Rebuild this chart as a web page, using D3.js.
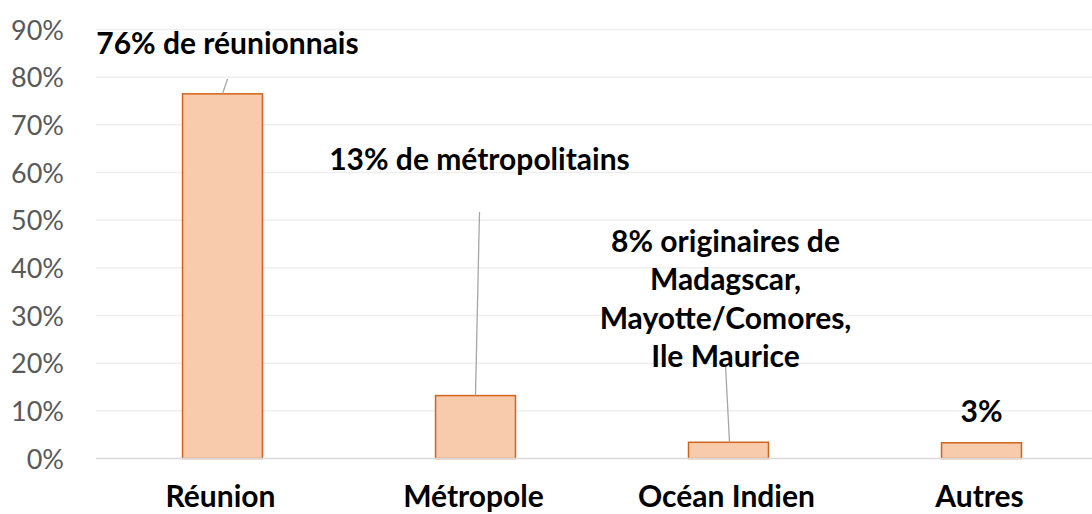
<!DOCTYPE html>
<html>
<head>
<meta charset="utf-8">
<script src="https://cdn.jsdelivr.net/npm/d3@7"></script>
<style>
  body { margin: 0; background: #fff; }
  svg { display: block; font-family: Lato, "Open Sans", sans-serif; }
</style>
</head>
<body>
<svg id="chart" width="1092" height="514"></svg>
<script>
// data
var categories = ['Réunion', 'Métropole', 'Océan Indien', 'Autres'];
var values = [76.5, 13.2, 3.4, 3.3];
var yTicks = [0, 10, 20, 30, 40, 50, 60, 70, 80, 90];
var labelLines = [
    ['76% de réunionnais'],
    ['13% de métropolitains'],
    ['8% originaires de', 'Madagscar,', 'Mayotte/Comores,', 'Ile Maurice'],
    ['3%']
];
// where each label sits (value units for y, offset from band centre for x)
var labelPos = [
    {dx: 5, y: 84.9, lineTop: 79.6},
    {dx: 4, y: 60.5, lineTop: 51.7},
    {dx: -3, y: 43.3, lineTop: 19.6},
    {dx: 0, y: 7.7, lineTop: null}
];

var svg = d3.select('#chart');
var margin = {left: 96, right: -16, top: 29.5, bottom: 55.5};
var width = 1092 - margin.left - margin.right;
var height = 514 - margin.top - margin.bottom;

var x = d3.scaleBand()
    .domain(categories)
    .range([margin.left, margin.left + width])
    .paddingInner(0.684)
    .paddingOuter(0.342);

var y = d3.scaleLinear()
    .domain([0, 90])
    .range([margin.top + height, margin.top]);

// gridlines
svg.append('g')
    .selectAll('line')
    .data(yTicks.slice(1))
    .enter()
    .append('line')
    .attr('x1', margin.left)
    .attr('x2', 1092)
    .attr('y1', function(d) { return y(d); })
    .attr('y2', function(d) { return y(d); })
    .attr('stroke', '#efefef')
    .attr('stroke-width', 1.5);

// y labels
svg.append('g')
    .selectAll('text')
    .data(yTicks)
    .enter()
    .append('text')
    .attr('x', 64)
    .attr('y', function(d) { return y(d) + 10; })
    .attr('text-anchor', 'end')
    .attr('fill', '#595959')
    .attr('font-size', '27px')
    .text(function(d) { return d + '%'; });

// bars
svg.append('g')
    .selectAll('rect')
    .data(values)
    .enter()
    .append('rect')
    .attr('x', function(d, i) { return x(categories[i]); })
    .attr('y', function(d) { return y(d); })
    .attr('width', x.bandwidth())
    .attr('height', function(d) { return y(0) - y(d); })
    .attr('fill', '#f8cbad')
    .attr('stroke', '#d0641c')
    .attr('stroke-width', 1.5);

// baseline
svg.append('line')
    .attr('x1', margin.left)
    .attr('x2', 1092)
    .attr('y1', y(0))
    .attr('y2', y(0))
    .attr('stroke', '#d9d9d9')
    .attr('stroke-width', 1.5);

// leader lines
svg.append('g')
    .selectAll('line')
    .data(labelPos.filter(function(p) { return p.lineTop !== null; }))
    .enter()
    .append('line')
    .attr('x1', function(p, i) { return x(categories[i]) + x.bandwidth() / 2 + p.dx; })
    .attr('y1', function(p) { return y(p.lineTop); })
    .attr('x2', function(p, i) { return x(categories[i]) + x.bandwidth() / 2 + (i == 2 ? 1 : 0); })
    .attr('y2', function(p, i) { return y(values[i]); })
    .attr('stroke', '#a6a6a6')
    .attr('stroke-width', 1.3);

// data labels
labelLines.forEach(function(lines, i)
{
    var cx = x(categories[i]) + x.bandwidth() / 2 + labelPos[i].dx;
    var t = svg.append('text')
        .attr('x', cx)
        .attr('y', y(labelPos[i].y))
        .attr('text-anchor', 'middle')
        .attr('font-weight', 'bold')
        .attr('font-size', '30px')
        .attr('fill', '#000');
    lines.forEach(function(s, j)
    {
        t.append('tspan')
            .attr('x', cx)
            .attr('dy', j == 0 ? 0 : 38.3)
            .text(s);
    });
});

// category labels
svg.append('g')
    .selectAll('text')
    .data(categories)
    .enter()
    .append('text')
    .attr('x', function(d) { return x(d) + x.bandwidth() / 2 - 2; })
    .attr('y', 507)
    .attr('text-anchor', 'middle')
    .attr('font-weight', 'bold')
    .attr('font-size', '30px')
    .attr('fill', '#000')
    .text(function(d) { return d; });
</script>
</body>
</html>
